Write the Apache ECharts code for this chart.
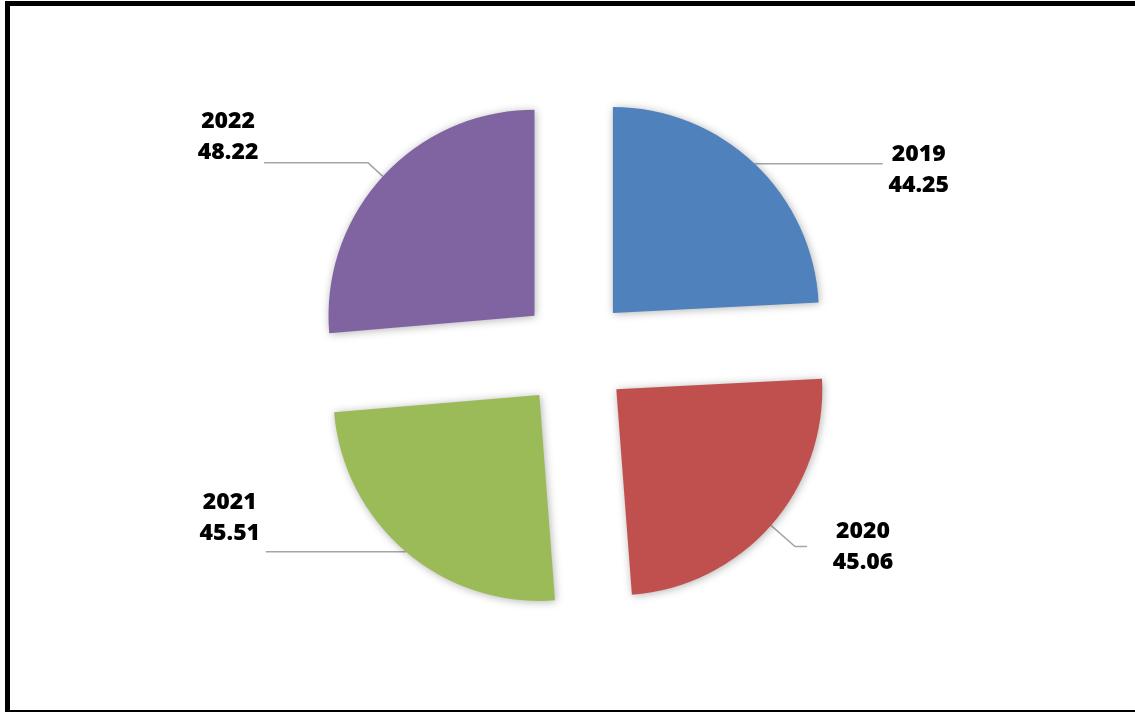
<!DOCTYPE html>
<html>
<head>
<meta charset="utf-8">
<script src="https://cdn.jsdelivr.net/npm/echarts@6/dist/echarts.min.js"></script>
<style>
  html, body { margin: 0; padding: 0; background: #fff; }
  #chart { position: absolute; left: 0; top: 0; width: 1135px; height: 712px; }
  #frame {
    position: absolute; left: 5px; top: 1px; width: 1140px; height: 704px;
    border-left: 5px solid #000; border-top: 5px solid #000; border-bottom: 2px solid #000;
    pointer-events: none;
  }
</style>
</head>
<body>
<div id="chart"></div>
<div id="frame"></div>
<script>
// Yearly values shown as an exploded pie
const years = ['2019', '2020', '2021', '2022'];
const values = [44.25, 45.06, 45.51, 48.22];
const colors = ['#4F81BD', '#C0504D', '#9BBB59', '#8064A2'];

// Leader-line shape per slice: [radial length, horizontal length, label padding]
const lineLen = [
  { length: 0, length2: 128, padding: [12, 0, 0, 0] },
  { length: 32, length2: 12, padding: [0, 0, 0, 20] },
  { length: 0, length2: 140, padding: [0, 0, 68, 0] },
  { length: 20, length2: 104, padding: [0, 0, 52, 0] }
];

const chart = echarts.init(document.getElementById('chart'), null, { renderer: 'canvas' });

const data = years.map((y, i) => ({
  name: y,
  value: values[i],
  selected: true,
  itemStyle: { color: colors[i] },
  label: { padding: lineLen[i].padding },
  labelLine: { length: lineLen[i].length, length2: lineLen[i].length2 }
}));

chart.setOption({
  animation: false,
  backgroundColor: '#fff',
  series: [{
    type: 'pie',
    center: [575, 353],
    radius: [0, 206],
    startAngle: 90,
    clockwise: true,
    selectedMode: 'multiple',
    selectedOffset: 55,
    avoidLabelOverlap: false,
    data: data,
    itemStyle: {
      shadowBlur: 8,
      shadowColor: 'rgba(0,0,0,0.3)',
      shadowOffsetX: 1,
      shadowOffsetY: 1
    },
    label: {
      show: true,
      position: 'outside',
      formatter: '{t|{b}}\n{t|{c}}',
      rich: {
        t: {
          fontFamily: '"Open Sans"',
          fontWeight: 800,
          fontSize: 23,
          lineHeight: 31,
          color: '#000',
          width: 62,
          align: 'center'
        }
      }
    },
    labelLine: {
      show: true,
      lineStyle: { color: '#A6A6A6', width: 1.5 }
    },
    emphasis: { disabled: true }
  }]
});
</script>
</body>
</html>
